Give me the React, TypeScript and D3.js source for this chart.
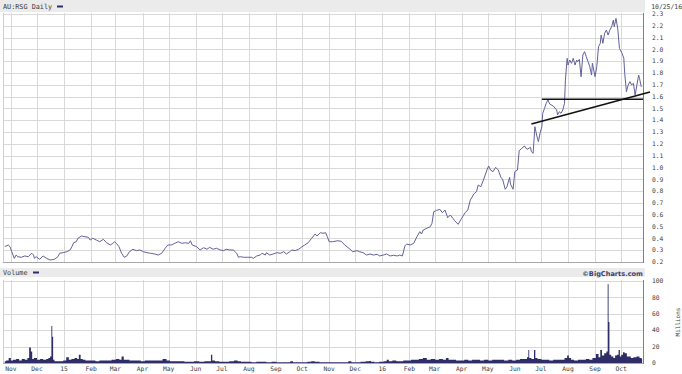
import React from "react";
import * as d3 from "d3";

const symbolTitle = "AU:RSG Daily";
const dateLabel = "10/25/16";
const creditLabel = "©BigCharts.com";
const volumeTitle = "Volume";
const volumeUnit = "Millions";

const priceTicks = [0.2, 0.3, 0.4, 0.5, 0.6, 0.7, 0.8, 0.9, 1.0, 1.1, 1.2, 1.3, 1.4, 1.5, 1.6, 1.7, 1.8, 1.9, 2.0, 2.1, 2.2, 2.3];
const volumeTicks = [0, 20, 40, 60, 80, 100];

const monthTicks: [string, string][] = [
  ["2014-11-01", "Nov"], ["2014-12-01", "Dec"], ["2015-01-01", "15"], ["2015-02-01", "Feb"],
  ["2015-03-01", "Mar"], ["2015-04-01", "Apr"], ["2015-05-01", "May"], ["2015-06-01", "Jun"],
  ["2015-07-01", "Jul"], ["2015-08-01", "Aug"], ["2015-09-01", "Sep"], ["2015-10-01", "Oct"],
  ["2015-11-01", "Nov"], ["2015-12-01", "Dec"], ["2016-01-01", "16"], ["2016-02-01", "Feb"],
  ["2016-03-01", "Mar"], ["2016-04-01", "Apr"], ["2016-05-01", "May"], ["2016-06-01", "Jun"],
  ["2016-07-01", "Jul"], ["2016-08-01", "Aug"], ["2016-09-01", "Sep"], ["2016-10-01", "Oct"],
];

const priceData: [string, number][] = [
  ["2014-10-25",0.330],["2014-10-29",0.344],["2014-10-31",0.330],["2014-11-02",0.287],["2014-11-05",0.231],["2014-11-07",0.259],["2014-11-09",0.245],["2014-11-13",0.240],["2014-11-17",0.251],["2014-11-21",0.245],["2014-11-25",0.274],["2014-11-27",0.259],["2014-11-28",0.231],["2014-11-30",0.245],
  ["2014-12-04",0.223],["2014-12-08",0.251],["2014-12-12",0.231],["2014-12-16",0.217],["2014-12-21",0.223],["2014-12-25",0.245],["2014-12-27",0.274],["2014-12-31",0.279],
  ["2015-01-04",0.287],["2015-01-08",0.302],["2015-01-10",0.330],["2015-01-12",0.363],["2015-01-15",0.372],["2015-01-17",0.401],["2015-01-21",0.420],["2015-01-25",0.414],["2015-01-29",0.409],["2015-01-31",0.386],
  ["2015-02-03",0.401],["2015-02-07",0.386],["2015-02-11",0.372],["2015-02-15",0.392],["2015-02-19",0.363],["2015-02-23",0.344],["2015-02-26",0.358],["2015-02-28",0.372],
  ["2015-03-02",0.358],["2015-03-05",0.330],["2015-03-08",0.274],["2015-03-11",0.240],["2015-03-14",0.251],["2015-03-17",0.287],["2015-03-21",0.308],["2015-03-25",0.296],["2015-03-29",0.302],
  ["2015-04-02",0.287],["2015-04-06",0.279],["2015-04-10",0.274],["2015-04-15",0.268],["2015-04-19",0.259],["2015-04-23",0.274],["2015-04-27",0.316],["2015-04-30",0.344],
  ["2015-05-04",0.344],["2015-05-08",0.358],["2015-05-12",0.372],["2015-05-16",0.358],["2015-05-20",0.363],["2015-05-24",0.358],["2015-05-26",0.380],["2015-05-28",0.344],
  ["2015-06-02",0.330],["2015-06-06",0.302],["2015-06-10",0.321],["2015-06-14",0.308],["2015-06-17",0.324],["2015-06-21",0.308],["2015-06-25",0.316],["2015-06-29",0.302],
  ["2015-07-03",0.296],["2015-07-06",0.308],["2015-07-10",0.302],["2015-07-14",0.302],["2015-07-18",0.274],["2015-07-20",0.240],["2015-07-22",0.245],["2015-07-26",0.240],["2015-07-30",0.240],
  ["2015-08-04",0.240],["2015-08-06",0.231],["2015-08-10",0.251],["2015-08-14",0.259],["2015-08-16",0.274],["2015-08-20",0.259],["2015-08-21",0.279],["2015-08-25",0.259],["2015-08-29",0.268],
  ["2015-09-02",0.279],["2015-09-06",0.274],["2015-09-10",0.287],["2015-09-13",0.268],["2015-09-17",0.287],["2015-09-19",0.302],["2015-09-23",0.296],["2015-09-27",0.308],["2015-09-30",0.324],
  ["2015-10-04",0.344],["2015-10-08",0.363],["2015-10-12",0.401],["2015-10-16",0.437],["2015-10-18",0.420],["2015-10-22",0.448],["2015-10-25",0.443],["2015-10-28",0.448],["2015-10-30",0.414],
  ["2015-11-01",0.372],["2015-11-05",0.372],["2015-11-11",0.380],["2015-11-15",0.375],["2015-11-19",0.344],["2015-11-25",0.308],["2015-11-28",0.287],
  ["2015-12-03",0.296],["2015-12-06",0.287],["2015-12-10",0.279],["2015-12-14",0.259],["2015-12-18",0.268],["2015-12-22",0.259],["2015-12-26",0.265],["2015-12-29",0.251],
  ["2016-01-02",0.259],["2016-01-06",0.268],["2016-01-10",0.251],["2016-01-14",0.257],["2016-01-18",0.251],["2016-01-21",0.259],["2016-01-24",0.251],["2016-01-27",0.337],["2016-01-29",0.352],
  ["2016-02-02",0.344],["2016-02-06",0.358],["2016-02-10",0.418],["2016-02-13",0.457],["2016-02-15",0.437],["2016-02-17",0.471],["2016-02-21",0.485],["2016-02-25",0.499],["2016-02-27",0.528],["2016-02-29",0.626],
  ["2016-03-03",0.636],["2016-03-07",0.646],["2016-03-10",0.617],["2016-03-13",0.640],["2016-03-16",0.575],["2016-03-19",0.598],["2016-03-22",0.570],["2016-03-24",0.550],["2016-03-28",0.519],
  ["2016-04-01",0.570],["2016-04-05",0.617],["2016-04-08",0.640],["2016-04-11",0.725],["2016-04-15",0.776],["2016-04-18",0.795],["2016-04-20",0.852],["2016-04-23",0.838],["2016-04-26",0.894],["2016-04-30",0.979],
  ["2016-05-02",1.013],["2016-05-04",0.979],["2016-05-07",0.965],["2016-05-10",1.002],["2016-05-13",0.979],["2016-05-16",0.917],["2016-05-18",0.900],["2016-05-21",0.816],["2016-05-23",0.838],["2016-05-26",0.917],["2016-05-27",0.860],["2016-05-30",0.816],
  ["2016-06-01",0.965],["2016-06-04",0.979],["2016-06-06",1.142],["2016-06-09",1.163],["2016-06-12",1.182],["2016-06-15",1.154],["2016-06-19",1.171],["2016-06-20",1.134],["2016-06-22",1.120],["2016-06-24",1.346],["2016-06-26",1.275],["2016-06-28",1.219],["2016-06-30",1.292],
  ["2016-07-02",1.346],["2016-07-03",1.459],["2016-07-05",1.500],["2016-07-07",1.544],["2016-07-09",1.572],["2016-07-11",1.538],["2016-07-15",1.521],["2016-07-19",1.487],["2016-07-20",1.445],["2016-07-22",1.473],["2016-07-24",1.459],["2016-07-26",1.487],["2016-07-28",1.544],["2016-07-29",1.741],["2016-07-31",1.925],
  ["2016-08-01",1.868],["2016-08-03",1.910],["2016-08-05",1.882],["2016-08-07",1.925],["2016-08-09",1.868],["2016-08-11",1.910],["2016-08-12",1.896],["2016-08-14",1.916],["2016-08-16",1.769],["2016-08-18",1.953],["2016-08-20",1.981],["2016-08-22",1.938],["2016-08-24",1.896],["2016-08-26",1.854],["2016-08-28",1.783],["2016-08-29",1.883],
  ["2016-09-01",1.769],["2016-09-03",1.854],["2016-09-05",2.023],["2016-09-07",2.052],["2016-09-08",2.122],["2016-09-10",2.052],["2016-09-12",2.137],["2016-09-14",2.164],["2016-09-16",2.122],["2016-09-18",2.164],["2016-09-20",2.192],["2016-09-22",2.249],["2016-09-23",2.192],["2016-09-25",2.263],["2016-09-27",2.179],["2016-09-29",2.009],
  ["2016-10-02",1.967],["2016-10-04",1.925],["2016-10-05",1.798],["2016-10-07",1.642],["2016-10-09",1.699],["2016-10-11",1.727],["2016-10-13",1.699],["2016-10-15",1.713],["2016-10-17",1.614],["2016-10-19",1.699],["2016-10-21",1.783],["2016-10-22",1.756],["2016-10-24",1.684],
];

const volumeData: [string, number][] = [
  ["2014-10-25",2],["2014-10-28",3],["2014-10-31",6],["2014-11-02",3],["2014-11-05",4],["2014-11-09",5],["2014-11-12",3],["2014-11-15",5],["2014-11-19",4],["2014-11-21",6],["2014-11-23",19],["2014-11-25",14],["2014-11-26",5],["2014-11-29",6],
  ["2014-12-03",4],["2014-12-06",5],["2014-12-10",4],["2014-12-13",5],["2014-12-15",6],["2014-12-17",8],["2014-12-18",45],["2014-12-19",32],["2014-12-20",4],["2014-12-22",2],["2014-12-26",2],["2014-12-29",2],
  ["2015-01-02",3],["2015-01-05",7],["2015-01-08",4],["2015-01-11",5],["2015-01-15",6],["2015-01-17",5],["2015-01-19",10],["2015-01-21",5],["2015-01-24",4],["2015-01-27",3],["2015-01-31",3],
  ["2015-02-04",3],["2015-02-08",2],["2015-02-13",3],["2015-02-18",3],["2015-02-22",3],["2015-02-27",4],
  ["2015-03-04",5],["2015-03-07",4],["2015-03-09",8],["2015-03-12",4],["2015-03-15",4],["2015-03-19",3],["2015-03-23",3],["2015-03-28",3],
  ["2015-04-01",2],["2015-04-06",3],["2015-04-11",3],["2015-04-15",3],["2015-04-21",3],["2015-04-27",5],["2015-04-30",3],
  ["2015-05-05",2],["2015-05-10",2],["2015-05-16",2],["2015-05-22",1.5],["2015-05-27",1.5],
  ["2015-06-02",2],["2015-06-08",1.5],["2015-06-14",2],["2015-06-18",2],["2015-06-19",10],["2015-06-21",3],["2015-06-25",2],
  ["2015-07-01",1.5],["2015-07-07",1.5],["2015-07-12",2],["2015-07-18",3],["2015-07-20",2],["2015-07-26",1.5],
  ["2015-08-01",1.5],["2015-08-07",1],["2015-08-12",1.5],["2015-08-18",1.5],["2015-08-24",1],["2015-08-30",1.5],
  ["2015-09-04",1],["2015-09-10",1],["2015-09-16",1],["2015-09-19",2],["2015-09-22",1],["2015-09-28",1],
  ["2015-10-04",1],["2015-10-10",1.5],["2015-10-13",2],["2015-10-18",1.5],["2015-10-24",1],["2015-10-29",1],
  ["2015-11-04",1],["2015-11-10",1],["2015-11-16",1],["2015-11-21",1],["2015-11-25",2],["2015-11-28",1],
  ["2015-12-04",1],["2015-12-10",1.5],["2015-12-16",2],["2015-12-18",2.5],["2015-12-20",1.5],["2015-12-26",1],["2015-12-31",1.5],
  ["2016-01-05",2],["2016-01-07",4],["2016-01-10",2],["2016-01-15",3],["2016-01-19",2],["2016-01-23",2],["2016-01-27",3],
  ["2016-02-01",3],["2016-02-05",4],["2016-02-10",4],["2016-02-14",5],["2016-02-19",6],["2016-02-23",4],["2016-02-28",5],
  ["2016-03-04",4],["2016-03-08",5],["2016-03-13",4],["2016-03-15",6],["2016-03-19",4],["2016-03-23",4],["2016-03-28",3],
  ["2016-04-02",3],["2016-04-06",4],["2016-04-11",3],["2016-04-15",4],["2016-04-20",4],["2016-04-24",3],["2016-04-29",4],
  ["2016-05-04",3],["2016-05-08",4],["2016-05-13",4],["2016-05-17",4],["2016-05-22",3],["2016-05-27",4],["2016-05-31",3],
  ["2016-06-05",4],["2016-06-09",5],["2016-06-14",5],["2016-06-16",7],["2016-06-17",16],["2016-06-18",6],["2016-06-22",5],["2016-06-24",16],["2016-06-25",6],["2016-06-29",5],
  ["2016-07-04",4],["2016-07-08",4],["2016-07-13",3],["2016-07-17",4],["2016-07-22",4],["2016-07-26",4],["2016-07-30",6],
  ["2016-08-01",9],["2016-08-03",6],["2016-08-06",4],["2016-08-10",3],["2016-08-15",4],["2016-08-19",4],["2016-08-24",5],["2016-08-27",4],["2016-08-31",6],
  ["2016-09-04",11],["2016-09-06",7],["2016-09-08",16],["2016-09-10",9],["2016-09-13",12],["2016-09-15",14],["2016-09-16",96],["2016-09-17",50],["2016-09-18",10],["2016-09-21",8],["2016-09-23",6],["2016-09-25",9],["2016-09-27",10],["2016-09-29",16],["2016-09-30",8],
  ["2016-10-02",10],["2016-10-04",13],["2016-10-06",12],["2016-10-09",8],["2016-10-11",8],["2016-10-13",6],["2016-10-17",7],["2016-10-20",8],["2016-10-24",6],["2016-10-25",5],
];

const trendLines: [[string, number], [string, number]][] = [
  [["2016-06-20", 1.368], ["2016-11-03", 1.639]],
  [["2016-07-02", 1.578], ["2016-10-26", 1.578]],
];

const dateDomain: [string, string] = ["2014-10-23", "2016-10-26"];

const MONO = "'DejaVu Sans Mono', 'Liberation Mono', monospace";

export default function App() {
  const parse = d3.utcParse("%Y-%m-%d");
  const L = 3, R = 643;
  const mainTop = 13, mainBottom = 262;
  const volTop = 280, volBottom = 363;

  const x = d3.scaleUtc().domain(dateDomain.map((s) => parse(s) as Date)).range([L, R]);
  const y = d3.scaleLinear().domain([0.2, 2.3]).range([262, 14]);
  const yv = d3.scaleLinear().domain([0, 100]).range([363, 281]);

  const line = d3.line<[string, number]>()
    .x((d) => x(parse(d[0]) as Date))
    .y((d) => y(d[1]));
  const area = d3.area<[string, number]>()
    .x((d) => x(parse(d[0]) as Date))
    .y0(yv(0))
    .y1((d) => yv(d[1]))
    .curve(d3.curveStep);

  const grid = "#d9d9d9";
  const band = "#ebebeb";
  const textCol = "#3a3a3a";
  const navy = "#2e2d68";

  return (
    <svg width={682} height={374} style={{ position: "absolute", left: 0, top: 0, background: "#fff" }}>
      {/* header bands */}
      <rect x={0} y={0} width={645} height={12} fill={band} />
      <rect x={0} y={268} width={645} height={9} fill={band} />

      {/* main grid */}
      {priceTicks.map((t) => (
        <line key={"pg" + t} x1={L} x2={R} y1={Math.round(y(t)) + 0.5} y2={Math.round(y(t)) + 0.5} stroke={grid} />
      ))}
      {monthTicks.map(([d]) => {
        const xx = Math.round(x(parse(d) as Date)) + 0.5;
        return (
          <g key={"mg" + d}>
            <line x1={xx} x2={xx} y1={mainTop} y2={mainBottom} stroke={grid} />
            <line x1={xx} x2={xx} y1={volTop} y2={volBottom} stroke={grid} />
          </g>
        );
      })}
      {volumeTicks.map((t) => (
        <line key={"vg" + t} x1={L} x2={R} y1={Math.round(yv(t)) + 0.5} y2={Math.round(yv(t)) + 0.5} stroke={grid} />
      ))}

      {/* frames */}
      <line x1={L + 0.5} x2={L + 0.5} y1={mainTop} y2={mainBottom} stroke="#cfcfcf" />
      <line x1={L + 0.5} x2={L + 0.5} y1={volTop} y2={volBottom} stroke="#cfcfcf" />
      <line x1={L} x2={R} y1={mainBottom + 0.5} y2={mainBottom + 0.5} stroke="#a8a8a8" />
      <line x1={L} x2={R} y1={volBottom + 0.5} y2={volBottom + 0.5} stroke="#a8a8a8" />
      <line x1={R + 0.5} x2={R + 0.5} y1={mainTop} y2={mainBottom + 1} stroke="#808080" />
      <line x1={R + 0.5} x2={R + 0.5} y1={volTop} y2={volBottom + 1} stroke="#808080" />

      {/* volume */}
      <path d={area(volumeData) || ""} fill={navy} />

      {/* price line */}
      <path d={line(priceData) || ""} fill="none" stroke="#62619a" strokeWidth={1} strokeLinejoin="round" />

      {/* trend lines */}
      {trendLines.map(([a, b], i) => (
        <line
          key={"tl" + i}
          x1={x(parse(a[0]) as Date)}
          y1={y(a[1])}
          x2={x(parse(b[0]) as Date)}
          y2={y(b[1])}
          stroke="#111"
          strokeWidth={1.6}
        />
      ))}

      {/* titles */}
      <text x={3} y={9} fontFamily={MONO} fontSize={6.8} fill={textCol}>{symbolTitle}</text>
      <line x1={57} x2={63} y1={6.5} y2={6.5} stroke={navy} strokeWidth={2} />
      <text x={682} y={8.5} textAnchor="end" fontFamily={MONO} fontSize={6.4} fill={textCol}>{dateLabel}</text>

      <text x={3} y={275} fontFamily={MONO} fontSize={6.8} fill={textCol}>{volumeTitle}</text>
      <line x1={33} x2={39} y1={272.5} y2={272.5} stroke={navy} strokeWidth={2} />
      <text x={643} y={275.5} textAnchor="end" fontFamily="'DejaVu Sans', Verdana, sans-serif" fontWeight="bold" fontSize={6.6} fill="#3d3d70">{creditLabel}</text>

      {/* price axis labels */}
      {priceTicks.map((t) => (
        <text key={"pl" + t} x={652} y={y(t)} dy="0.35em" fontFamily={MONO} fontSize={6.3} fill={textCol}>
          {t.toFixed(1)}
        </text>
      ))}
      {/* volume axis labels */}
      {volumeTicks.map((t) => (
        <text key={"vl" + t} x={652} y={yv(t)} dy="0.35em" fontFamily={MONO} fontSize={6.3} fill={textCol}>
          {t}
        </text>
      ))}
      <text
        transform={`translate(678,${(yv(0) + yv(100)) / 2}) rotate(-90)`}
        textAnchor="middle"
        dy="0.35em"
        fontFamily={MONO}
        fontSize={6}
        fill={textCol}
      >
        {volumeUnit}
      </text>

      {/* month labels */}
      {monthTicks.map(([d, lab]) => (
        <text key={"ml" + d} x={x(parse(d) as Date)} y={371} textAnchor="middle" fontFamily={MONO} fontSize={6.3} fill={textCol}>
          {lab}
        </text>
      ))}
    </svg>
  );
}
